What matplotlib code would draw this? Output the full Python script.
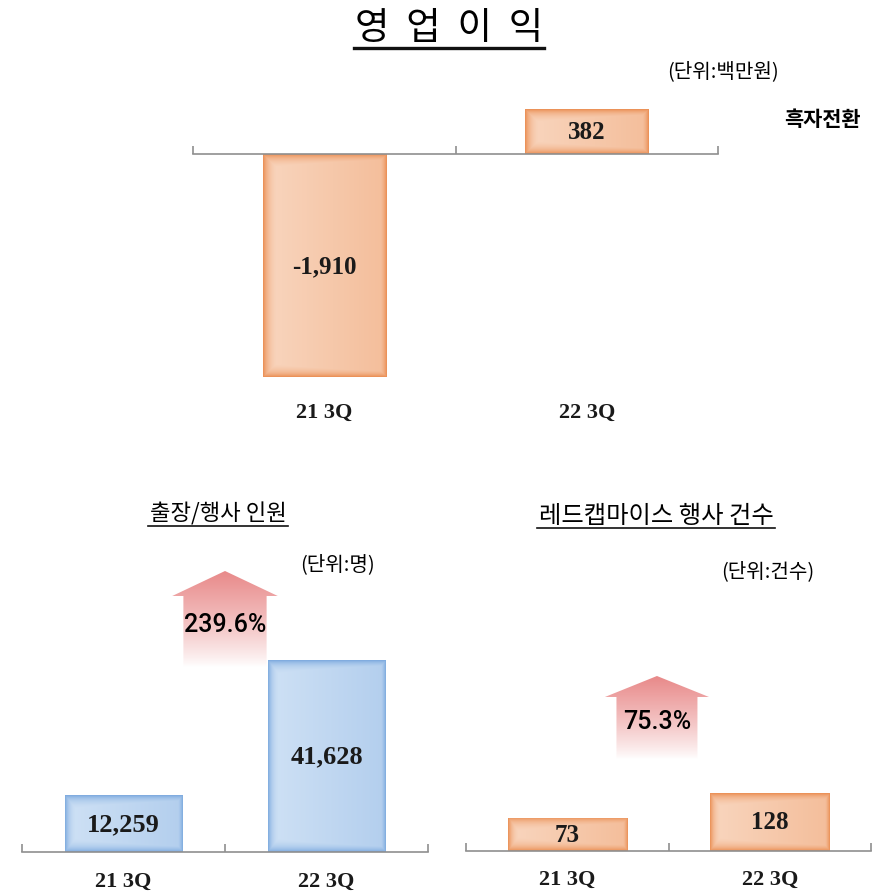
import numpy as np
import matplotlib
matplotlib.use('Agg')
import matplotlib.pyplot as plt
from matplotlib.patches import Polygon
from matplotlib.lines import Line2D
from matplotlib.transforms import blended_transform_factory

plt.rcParams['font.family'] = ['Noto Sans CJK KR', 'DejaVu Sans']

# 데이터
periods = ['21 3Q', '22 3Q']
op_profit = [-1910, 382]        # 영업이익 (백만원)
visitors = [12259, 41628]       # 출장/행사 인원 (명)
events = [73, 128]              # 레드캡마이스 행사 건수 (건수)

W, H = 880, 895
fig = plt.figure(figsize=(W / 100, H / 100), dpi=100)

ORANGE = ((234, 140, 80), (250, 220, 200))
BLUE = ((122, 168, 222), (214, 230, 247))
NUM_FONT = 'Liberation Serif'


def make_axes(left, right, top, bottom, zero_px, px_per_unit):
    ax = fig.add_axes([left / W, 1 - bottom / H, (right - left) / W, (bottom - top) / H])
    ax.patch.set_visible(False)
    for s in ['top', 'left', 'right']:
        ax.spines[s].set_visible(False)
    ax.spines['bottom'].set_position(('data', 0))
    ax.spines['bottom'].set_color('#8f8f8f')
    ax.spines['bottom'].set_linewidth(1.2)
    ax.set_xticks([-0.5, 0.5, 1.5])
    ax.set_xticklabels([])
    ax.tick_params(axis='x', direction='in', length=6, color='#8f8f8f', width=1.2)
    ax.set_yticks([])
    ax.lims = (-(bottom - zero_px) / px_per_unit, (zero_px - top) / px_per_unit)
    ax.zero_px = zero_px
    ax.ppu = px_per_unit
    return ax


def p2y(ax, py):
    return (ax.zero_px - py) / ax.ppu


def glow_image(w_px, h_px, colors):
    edge = np.array(colors[0]) / 255
    center = np.array(colors[1]) / 255
    xs = np.arange(w_px) + 0.5
    ys = np.arange(h_px) + 0.5
    X, Y = np.meshgrid(xs, ys)
    d = np.minimum.reduce([X, w_px - X, Y, h_px - Y])
    t = np.exp(-d / 6.0)
    t = np.maximum(t, 0.08 + 0.3 * (X / w_px))
    return center + (edge - center) * t[..., None]


def gradient_bars(ax, values, width, colors, labels, fs):
    bars = ax.bar(range(len(values)), values, width=width, color='none', zorder=2)
    for rect, v, lab in zip(bars, values, labels):
        x0 = rect.get_x()
        y0, y1 = sorted([0, v])
        w_px = int(round(width * 262))
        h_px = max(int(round(abs(v) * ax.ppu)), 2)
        img = glow_image(w_px, h_px, colors)
        im = ax.imshow(img, extent=[x0, x0 + width, y0, y1], origin='lower',
                       aspect='auto', zorder=2, interpolation='bilinear')
        im.set_clip_path(rect)
        ax.text(x0 + width / 2, v / 2, lab, ha='center', va='center',
                fontsize=fs, fontweight='bold', family=NUM_FONT, color='#1a1a1a', zorder=3)


def up_arrow(ax, xc, tip_py, base_py, bottom_py, head_hw, shaft_hw, text):
    tip, base, bot = p2y(ax, tip_py), p2y(ax, base_py), p2y(ax, bottom_py)
    pts = [(xc, tip), (xc + head_hw, base), (xc + shaft_hw, base), (xc + shaft_hw, bot),
           (xc - shaft_hw, bot), (xc - shaft_hw, base), (xc - head_hw, base)]
    poly = Polygon(pts, closed=True, facecolor='none', edgecolor='none')
    ax.add_patch(poly)
    n = 200
    grad = np.zeros((n, 2, 4))
    grad[..., 0] = 0.91
    grad[..., 1] = 0.54
    grad[..., 2] = 0.54
    a = np.linspace(0, 1, n) ** 0.85
    grad[..., 3] = a[:, None]
    im = ax.imshow(grad, extent=[xc - head_hw, xc + head_hw, bot, tip], origin='lower',
                   aspect='auto', zorder=1, interpolation='bilinear')
    im.set_clip_path(poly)
    ax.text(xc, (base + bot) / 2 + (tip - bot) * 0.08, text, ha='center', va='center',
            fontsize=18, fontweight='medium', color='black',
            family=['Roboto', 'DejaVu Sans'], zorder=3)


def cat_labels(ax, py):
    tr = blended_transform_factory(ax.transData, fig.transFigure)
    for i, p in enumerate(periods):
        ax.text(i, 1 - py / H, p, transform=tr, ha='center', va='center',
                fontsize=16, fontweight='bold', family=NUM_FONT, color='#1a1a1a')


def underline(txt, py, lw, pad=2):
    fig.canvas.draw()
    bb = txt.get_window_extent()
    y = 1 - py / H
    fig.add_artist(Line2D([(bb.x0 - pad) / W, (bb.x1 + pad) / W], [y, y],
                          transform=fig.transFigure, color='#111111', lw=lw))


# 영업이익
ax1 = make_axes(193, 718, 95, 430, 155, 223 / 1910)
gradient_bars(ax1, op_profit, 0.47, ORANGE, [f'{v:,}' for v in op_profit], 18)
cat_labels(ax1, 413)
ax1.set_xlim(-0.5, 1.5)
ax1.set_ylim(*ax1.lims)

# 출장/행사 인원
ax2 = make_axes(22, 428, 540, 895, 853, 192 / 41628)
gradient_bars(ax2, visitors, 0.58, BLUE, [f'{v:,}' for v in visitors], 19)
g2 = (visitors[1] / visitors[0] - 1) * 100
up_arrow(ax2, 0.5, 572, 597, 668, 0.26, 0.205, f'{g2:.1f}%')
cat_labels(ax2, 882)
ax2.set_xlim(-0.5, 1.5)
ax2.set_ylim(*ax2.lims)

# 레드캡마이스 행사 건수
ax3 = make_axes(466, 871, 540, 895, 852, 58 / 128)
gradient_bars(ax3, events, 0.59, ORANGE, [f'{v:,}' for v in events], 18)
g3 = (events[1] / events[0] - 1) * 100
up_arrow(ax3, 0.443, 677, 698, 760, 0.257, 0.2, f'{g3:.1f}%')
cat_labels(ax3, 880)
ax3.set_xlim(-0.5, 1.5)
ax3.set_ylim(*ax3.lims)

# 제목 및 단위
t1 = fig.text(449 / W, 1 - 29 / H, '영  업  이  익', ha='center', va='center', fontsize=27)
fig.text(723 / W, 1 - 72 / H, '(단위:백만원)', ha='center', va='center', fontsize=14.5)
fig.text(822 / W, 1 - 120 / H, '흑자전환', ha='center', va='center', fontsize=15, fontweight='bold')

t2 = fig.text(218 / W, 1 - 514 / H, '출장/행사 인원', ha='center', va='center', fontsize=16)
fig.text(337 / W, 1 - 565 / H, '(단위:명)', ha='center', va='center', fontsize=14.5)

t3 = fig.text(656 / W, 1 - 516 / H, '레드캡마이스 행사 건수', ha='center', va='center', fontsize=17.5)
fig.text(768 / W, 1 - 572 / H, '(단위:건수)', ha='center', va='center', fontsize=14.5)

underline(t1, 49, 2.4, pad=1)
underline(t2, 527, 1.2)
underline(t3, 529, 1.2)

fig.savefig('out.png', dpi=100)
